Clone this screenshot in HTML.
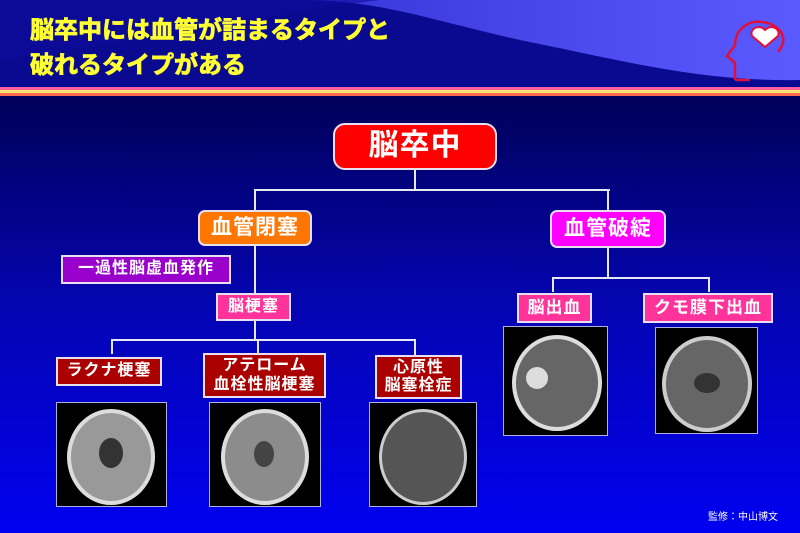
<!DOCTYPE html>
<html><head><meta charset="utf-8"><style>
body{margin:0;width:800px;height:533px;overflow:hidden;font-family:"Liberation Sans","Noto Sans CJK JP",sans-serif;}
#bg{position:absolute;left:0;top:0;width:800px;height:533px;background:linear-gradient(#00005a 100px,#0505b0 300px,#0000f0 533px);}
.b{position:absolute;box-sizing:border-box;border:2px solid #e8e0f0;color:#fff;display:flex;align-items:center;justify-content:center;text-align:center;line-height:1.15;letter-spacing:1px;font-weight:bold;}
.ct{position:absolute;background:#000;border:1px solid #b0b0e0;box-sizing:border-box;overflow:hidden}
.ct div{position:absolute;border-radius:50%;box-sizing:border-box;}
.l{position:absolute;background:#e8e8f0;}
</style></head><body>
<div id="bg"></div>
<svg width="800" height="100" style="position:absolute;left:0;top:0">
<defs><linearGradient id="g" x1="0" x2="1"><stop offset="0" stop-color="#2020c0"/><stop offset="1" stop-color="#5a5aff"/></linearGradient></defs>
<rect width="800" height="88" fill="#0a0a90"/>
<path d="M0 0H800V80C700 82 620 60 520 40C430 20 380 0 300 0Z" fill="url(#g)"/>
<path d="M0 0H380C300 10 200 30 0 60Z" fill="#0c0c9c" opacity="0.6"/>
<rect y="87" width="800" height="3" fill="#ff5fa0"/>
<rect y="90" width="800" height="3" fill="#ffe070"/>
<rect y="93" width="800" height="3" fill="#ff6a50"/>
<path d="M735 80H750M735 80V63L727 56L735 45C735 28 750 20 762 22C780 24 790 38 778 52" fill="none" stroke="#e0103a" stroke-width="2.5"/>
<path d="M765 47L752 36C749 28 760 24 765 30C770 24 781 28 778 36Z" fill="#fff" stroke="#e0103a" stroke-width="2"/>
<g font-size="24" font-weight="bold" fill="#ffff33" stroke="#ffff33" stroke-width="0.8" font-family="Liberation Sans,Noto Sans CJK JP,sans-serif">
<text x="30" y="38">脳卒中には血管が詰まるタイプと</text>
<text x="30" y="73">破れるタイプがある</text></g>
</svg>

<div class="l" style="left:414px;top:170px;width:2px;height:21px"></div>
<div class="l" style="left:254px;top:189px;width:356px;height:2px"></div>
<div class="l" style="left:254px;top:189px;width:2px;height:22px"></div>
<div class="l" style="left:607px;top:189px;width:2px;height:22px"></div>
<div class="l" style="left:254px;top:245px;width:2px;height:48px"></div>
<div class="l" style="left:254px;top:320px;width:2px;height:21px"></div>
<div class="l" style="left:111px;top:339px;width:305px;height:2px"></div>
<div class="l" style="left:111px;top:339px;width:2px;height:15px"></div>
<div class="l" style="left:257px;top:339px;width:2px;height:15px"></div>
<div class="l" style="left:414px;top:339px;width:2px;height:16px"></div>
<div class="l" style="left:607px;top:247px;width:2px;height:32px"></div>
<div class="l" style="left:552px;top:277px;width:158px;height:2px"></div>
<div class="l" style="left:552px;top:277px;width:2px;height:15px"></div>
<div class="l" style="left:708px;top:277px;width:2px;height:15px"></div>

<div class="b" style="left:333px;top:123px;width:164px;height:47px;background:#ff0000;border-radius:12px;font-size:30px">脳卒中</div>
<div class="b" style="left:198px;top:210px;width:114px;height:36px;background:#ff7700;border-radius:7px;font-size:21px">血管閉塞</div>
<div class="b" style="left:550px;top:210px;width:116px;height:38px;background:#ff00ff;border-radius:7px;font-size:21px">血管破綻</div>
<div class="b" style="left:61px;top:255px;width:170px;height:29px;background:#9900cc;font-size:16px">一過性脳虚血発作</div>
<div class="b" style="left:216px;top:293px;width:75px;height:28px;background:#ff3399;font-size:16px">脳梗塞</div>
<div class="b" style="left:56px;top:357px;width:106px;height:29px;background:#aa0000;font-size:16px">ラクナ梗塞</div>
<div class="b" style="left:203px;top:353px;width:123px;height:45px;background:#aa0000;font-size:16px">アテローム<br>血栓性脳梗塞</div>
<div class="b" style="left:375px;top:355px;width:87px;height:44px;background:#aa0000;font-size:16px">心原性<br>脳塞栓症</div>
<div class="b" style="left:517px;top:293px;width:75px;height:30px;background:#ff3399;font-size:17px">脳出血</div>
<div class="b" style="left:643px;top:293px;width:130px;height:30px;background:#ff3399;font-size:17px">クモ膜下出血</div>

<div class="ct" style="left:56px;top:402px;width:111px;height:105px"><div style="left:10px;top:6px;width:88px;height:96px;background:#999;border:4px solid #ddd"></div><div style="left:42px;top:35px;width:24px;height:30px;background:#333"></div></div>
<div class="ct" style="left:209px;top:402px;width:112px;height:105px"><div style="left:11px;top:6px;width:88px;height:96px;background:#8c8c8c;border:4px solid #ddd"></div><div style="left:44px;top:38px;width:20px;height:26px;background:#444"></div></div>
<div class="ct" style="left:369px;top:402px;width:108px;height:105px"><div style="left:9px;top:6px;width:88px;height:96px;background:#555;border:3px solid #ccc"></div></div>
<div class="ct" style="left:503px;top:326px;width:105px;height:110px"><div style="left:8px;top:8px;width:90px;height:96px;background:#666;border:4px solid #ddd"></div><div style="left:22px;top:40px;width:22px;height:22px;background:#ddd"></div></div>
<div class="ct" style="left:655px;top:327px;width:103px;height:107px"><div style="left:6px;top:8px;width:90px;height:96px;background:#666;border:4px solid #ccc"></div><div style="left:38px;top:45px;width:26px;height:20px;background:#333"></div></div>

<div style="position:absolute;left:708px;top:508px;color:#fff;font-size:10px">監修：中山博文</div>
</body></html>
